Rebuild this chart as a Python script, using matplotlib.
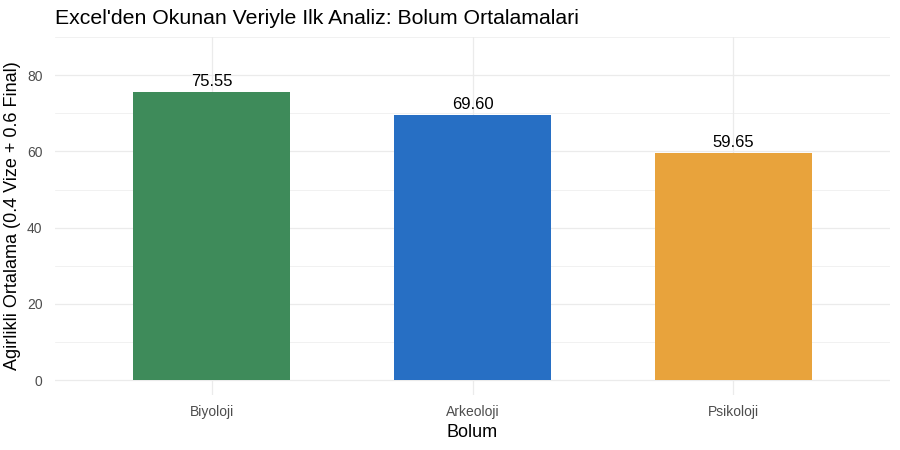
import matplotlib
matplotlib.use("Agg")
import matplotlib.pyplot as plt
import numpy as np

plt.rcParams["font.family"] = ["Liberation Sans", "DejaVu Sans"]

bolumler = ["Biyoloji", "Arkeoloji", "Psikoloji"]
ortalamalar = [75.55, 69.60, 59.65]
renkler = ["#3E8B5A", "#276FC4", "#E8A33C"]

fig = plt.figure(figsize=(9, 4.5), dpi=100)
ax = fig.add_axes([55 / 900, 1 - 395 / 450, 835 / 900, 358 / 450])

x = np.arange(1, len(bolumler) + 1)
ax.bar(x, ortalamalar, width=0.6, color=renkler, zorder=2)
for xi, v in zip(x, ortalamalar):
    ax.text(xi, v + 0.8, f"{v:.2f}", ha="center", va="bottom", fontsize=12, color="black")

ax.set_xlim(0.4, 3.6)
ax.set_ylim(-3.9, 90)
ax.set_yticks([0, 20, 40, 60, 80])
ax.set_yticks([10, 30, 50, 70, 90], minor=True)
ax.set_xticks(x)
ax.set_xticklabels(bolumler)
ax.grid(True, which="major", color="#EBEBEB", lw=0.9, zorder=0)
ax.grid(True, which="minor", axis="y", color="#EBEBEB", lw=0.5, zorder=0)
for s in ax.spines.values():
    s.set_visible(False)
ax.tick_params(which="both", length=0, colors="#4D4D4D", labelsize=10, pad=7)
ax.tick_params(axis="y", pad=9)

ax.set_xlabel("Bolum", fontsize=13, labelpad=4)
ax.set_ylabel("Agirlikli Ortalama (0.4 Vize + 0.6 Final)", fontsize=13, labelpad=4)
fig.text(55 / 900, 1 - 18 / 450, "Excel'den Okunan Veriyle Ilk Analiz: Bolum Ortalamalari",
         fontsize=15.3, ha="left", va="center")

fig.savefig("out.png", dpi=100)
